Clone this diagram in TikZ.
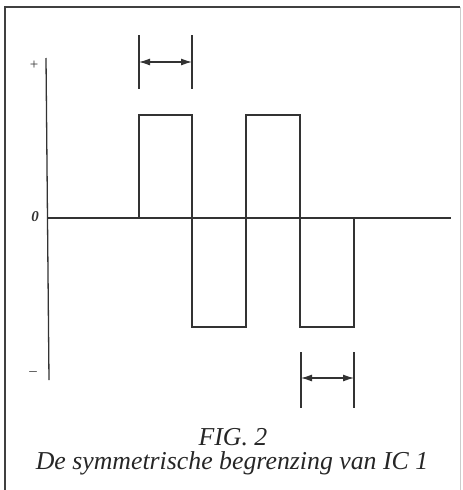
\documentclass[tikz,border=0pt]{standalone}
\usepackage{fontspec}
\setmainfont{Liberation Serif}
\usetikzlibrary{arrows.meta}
\begin{document}
\begin{tikzpicture}[x=1pt,y=-1pt,
  ink/.style={draw=black!80,line width=1.3pt},
  framestyle/.style={draw=black!75,line width=1.4pt},
  dim/.style={draw=black!80,line width=1.1pt,{Latex[length=11pt,width=7pt]}-{Latex[length=11pt,width=7pt]}},
  lbl/.style={font=\fontsize{15}{16}\selectfont,text=black!80,inner sep=0pt},
  captext/.style={font=\itshape\fontsize{25.8}{27}\selectfont,text=black!85,inner sep=0pt}]
\useasboundingbox (0,0) rectangle (463,490);
% frame
\draw[framestyle] (5,490) -- (5,7) -- (460,7);
\draw[draw=black!20,line width=0.8pt] (460,7) -- (460,490);
% axes
\draw[ink] (46,58) -- (49,380);
\draw[ink] (47,218) -- (451,218);
% labels
\node[lbl] (plus) at (34,65) {+};
\node[lbl,font=\bfseries\itshape\fontsize{15}{16}\selectfont] (zero) at (35,217) {0};
\node[lbl] (minus) at (33,374) {--};
% square wave
\draw[ink] (139,218) -- (139,115) -- (192,115) -- (192,327) -- (246,327) -- (246,115) -- (300,115) -- (300,327) -- (354,327) -- (354,218);
% top dimension marker
\draw[ink] (139,35) -- (139,89);
\draw[ink] (192,35) -- (192,89);
\coordinate (ta) at (139,62);
\coordinate (tb) at (192,62);
\draw[dim] (ta) -- (tb);
% bottom dimension marker
\draw[ink] (301,352) -- (301,408);
\draw[ink] (354,352) -- (354,408);
\coordinate (ba) at (301,378);
\coordinate (bb) at (354,378);
\draw[dim] (ba) -- (bb);
% caption
\node[captext] (fig) at (233,437) {FIG. 2};
\node[captext] (caption) at (232,463) {De symmetrische begrenzing van IC 1};
\end{tikzpicture}
\end{document}
